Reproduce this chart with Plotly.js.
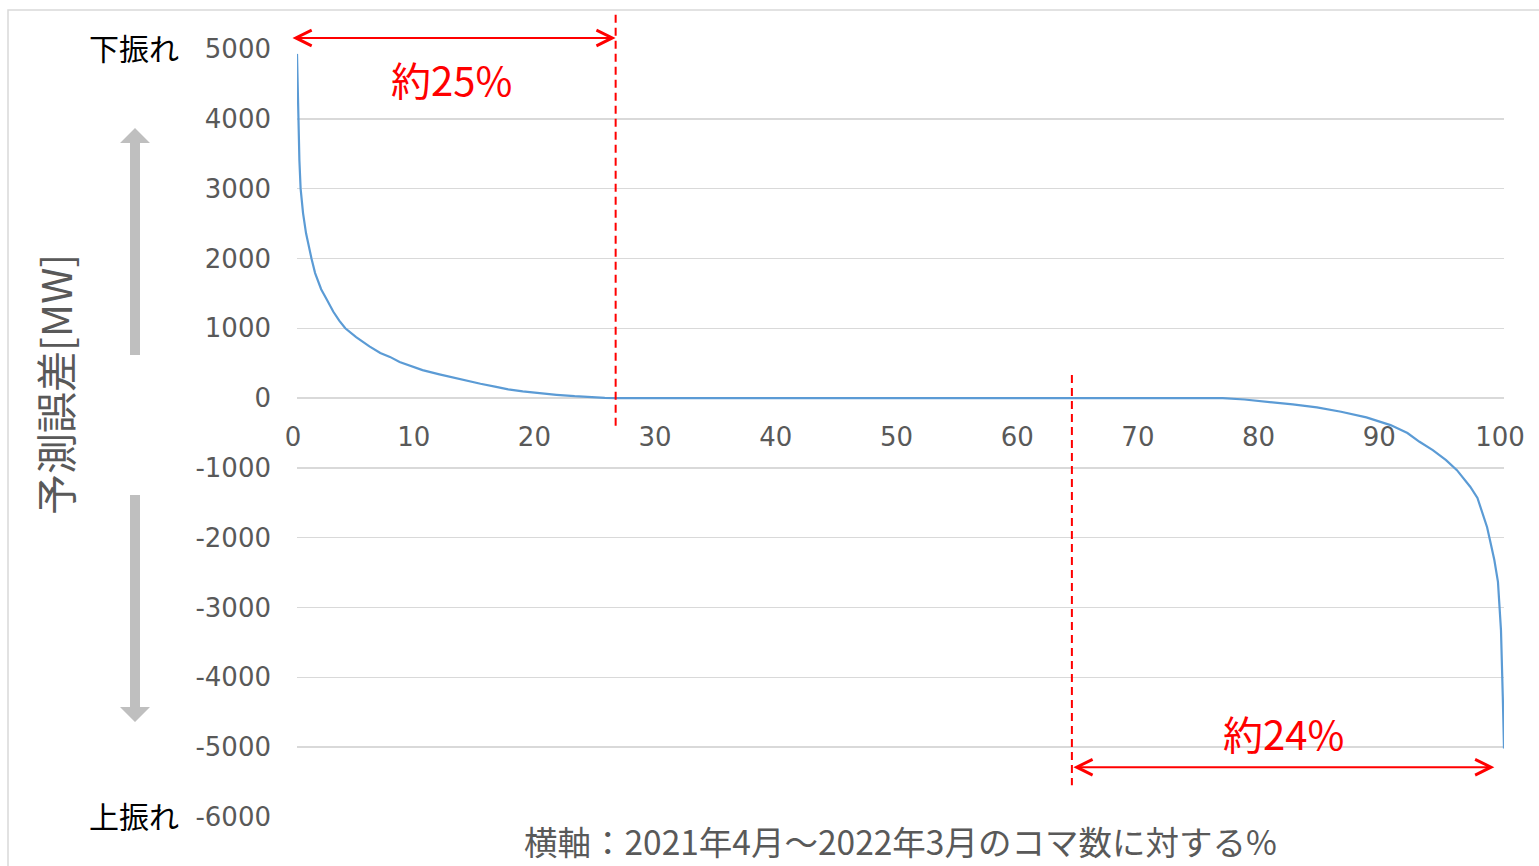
<!DOCTYPE html>
<html><head><meta charset="utf-8">
<script src="https://cdn.plot.ly/plotly-3.0.1.min.js"></script>
<style>html,body{margin:0;padding:0;background:#fff}#chart{width:1539px;height:866px}</style>
</head><body><div id="chart"></div>
<script>
// ---- data ----
const sharePct = [0, 0.05, 0.1, 0.2, 0.3, 0.5, 0.75, 1.0, 1.2, 1.5, 2.0, 2.5, 3.0, 3.5, 4.0, 4.9, 6.0, 6.9, 7.7, 8.5, 10.4, 11.8, 12.9, 14.0, 15.2, 16.5, 17.5, 18.7, 20.0, 21.5, 23.0, 24.3, 25.5, 26.5, 30, 40, 50, 60, 70, 76.7, 78.5, 80.3, 82.5, 84.5, 86.5, 88.6, 90.6, 92.0, 93.0, 94.1, 95.2, 96.1, 97.2, 97.8, 98.2, 98.6, 98.9, 99.2, 99.5, 99.75, 99.9, 100];
const errorMW = [4930, 4500, 4000, 3400, 3000, 2650, 2360, 2150, 2000, 1790, 1560, 1400, 1240, 1110, 1000, 874, 740, 645, 590, 516, 401, 340, 295, 250, 205, 160, 125, 95, 70, 47, 27, 12, 4, 0, 0, 0, 0, 0, 0, 0, -20, -48, -90, -133, -195, -277, -387, -500, -626, -745, -888, -1032, -1270, -1430, -1652, -1850, -2082, -2320, -2632, -3324, -4279, -5019];
const yTickVals = [5000, 4000, 3000, 2000, 1000, 0, -1000, -2000, -3000, -4000, -5000, -6000];
const yTickText = ['5000', '4000', '3000', '2000', '1000', '0', '-1000', '-2000', '-3000', '-4000', '-5000', '-6000'];
const xTickVals = [0, 10, 20, 30, 40, 50, 60, 70, 80, 90, 100];
const xTickText = ['0', '10', '20', '30', '40', '50', '60', '70', '80', '90', '100'];
const yRange = [-6000, 5000];
const xRange = [0, 100];
const shareLabels = ['約25%', '約24%'];
const shareLabelPos = [[12.8, 4570], [81.7, -4800]];
const bracketX = [[-0.5, 26.4], [64.2, 99.2]];   // red double arrows
const bracketY = [5158, -5287];
const dashX = [26.4, 64.2];                      // red dashed lines
const dashY = [[5490, -430], [330, -5545]];
const sideLabels = ['下振れ', '上振れ'];
const yTitle = '予測誤差[MW]';
const xTitle = '横軸：2021年4月～2022年3月のコマ数に対する%';

// ---- layout helpers (pixel -> paper) ----
const W = 1539, H = 866, PL = 297, PR = 1504, PT = 49, PB = 817;
const px2x = p => (p - PL) / (PR - PL);
const px2y = p => (PB - p) / (PB - PT);
const v2py = v => (v - yRange[0]) / (yRange[1] - yRange[0]);

const GRAY = '#595959', RED = '#FF0000', ARW = '#BFBFBF';

const trace = {
  x: sharePct, y: errorMW, type: 'scatter', mode: 'lines',
  line: {color: '#5B9BD5', width: 2.2}, hoverinfo: 'skip', showlegend: false
};

const annotations = [];
// red value labels
shareLabels.forEach((t, i) => annotations.push({
  text: t, x: shareLabelPos[i][0], y: shareLabelPos[i][1], xref: 'x', yref: 'y',
  showarrow: false, xanchor: 'center', yanchor: 'middle',
  font: {family: 'Noto Sans CJK JP', size: 40, color: RED}
}));
// red double arrows
bracketX.forEach((bx, i) => annotations.push({
  text: '', xref: 'x', yref: 'paper', axref: 'x', ayref: 'pixel',
  x: bx[1], y: v2py(bracketY[i]), ax: bx[0], ay: 0,
  showarrow: true, arrowside: 'end+start', arrowhead: 5, startarrowhead: 5,
  arrowwidth: 2, arrowsize: 1.55, startarrowsize: 1.55, arrowcolor: RED, standoff: 0, startstandoff: 0
}));
// side labels
annotations.push({text: sideLabels[0], xref: 'paper', yref: 'paper', x: px2x(181), y: px2y(47),
  xanchor: 'right', yanchor: 'middle', showarrow: false,
  font: {family: 'Noto Sans CJK JP', size: 30, color: '#000000'}});
annotations.push({text: sideLabels[1], xref: 'paper', yref: 'paper', x: px2x(181), y: px2y(815),
  xanchor: 'right', yanchor: 'middle', showarrow: false,
  font: {family: 'Noto Sans CJK JP', size: 30, color: '#000000'}});
// axis titles
annotations.push({text: yTitle, xref: 'paper', yref: 'paper', x: px2x(54), y: px2y(385),
  xanchor: 'center', yanchor: 'middle', textangle: -90, showarrow: false,
  font: {family: 'Noto Sans CJK JP', size: 41, color: GRAY}});
annotations.push({text: xTitle, xref: 'paper', yref: 'paper', x: px2x(900), y: px2y(840),
  xanchor: 'center', yanchor: 'middle', showarrow: false,
  font: {family: 'Noto Sans CJK JP', size: 33.5, color: GRAY}});

const shapes = [];
// chart frame
shapes.push({type: 'rect', xref: 'paper', yref: 'paper', x0: px2x(8), x1: px2x(1600), y0: px2y(10), y1: px2y(920),
  line: {color: '#D9D9D9', width: 1.5}, fillcolor: 'rgba(0,0,0,0)', layer: 'below'});
// dashed red lines
dashX.forEach((dx, i) => shapes.push({type: 'line', xref: 'x', yref: 'paper',
  x0: dx, x1: dx, y0: v2py(dashY[i][0]), y1: v2py(dashY[i][1]),
  line: {color: RED, width: 2, dash: '8px,5px'}}));
// gray direction arrows
const upPath = `M${px2x(130)},${px2y(355)} L${px2x(130)},${px2y(143)} L${px2x(120)},${px2y(143)} L${px2x(135)},${px2y(128)} L${px2x(150)},${px2y(143)} L${px2x(140)},${px2y(143)} L${px2x(140)},${px2y(355)} Z`;
const dnPath = `M${px2x(130)},${px2y(495)} L${px2x(130)},${px2y(707)} L${px2x(120)},${px2y(707)} L${px2x(135)},${px2y(722)} L${px2x(150)},${px2y(707)} L${px2x(140)},${px2y(707)} L${px2x(140)},${px2y(495)} Z`;
[upPath, dnPath].forEach(p => shapes.push({type: 'path', xref: 'paper', yref: 'paper', path: p,
  fillcolor: ARW, line: {width: 0}}));

const layout = {
  width: W, height: H,
  margin: {l: PL, r: W - PR, t: PT, b: H - PB, pad: 0},
  paper_bgcolor: '#ffffff', plot_bgcolor: '#ffffff',
  showlegend: false,
  xaxis: {
    range: xRange, tickvals: xTickVals, ticktext: xTickText,
    anchor: 'free', position: v2py(0),
    showgrid: false, zeroline: false, showline: false, ticks: '',
    ticklabelstandoff: 21, ticklabelshift: -4,
    tickfont: {family: 'DejaVu Sans', size: 26, color: GRAY}
  },
  yaxis: {
    range: yRange, tickvals: yTickVals, ticktext: yTickText,
    showgrid: true, gridcolor: '#D9D9D9', gridwidth: 1.5,
    zeroline: false, showline: false, ticks: '',
    ticklabelstandoff: 25,
    tickfont: {family: 'DejaVu Sans', size: 26, color: GRAY}
  },
  annotations: annotations,
  shapes: shapes
};

Plotly.newPlot('chart', [trace], layout, {displayModeBar: false, staticPlot: true});
</script>
</body></html>
